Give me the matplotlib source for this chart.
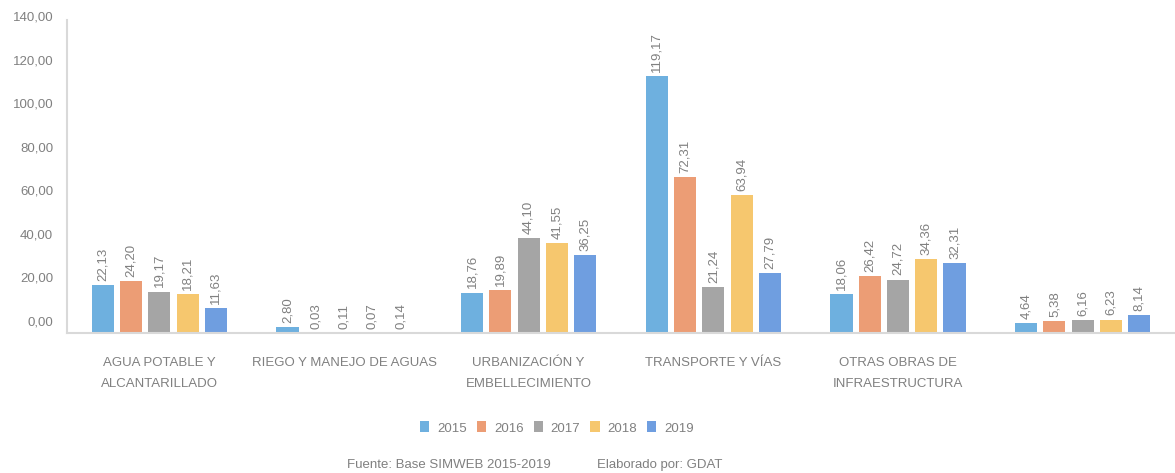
import matplotlib
matplotlib.use("Agg")
import matplotlib.pyplot as plt
import numpy as np

plt.rcParams['font.family'] = ['Liberation Sans', 'DejaVu Sans']

categories = ["AGUA POTABLE Y\nALCANTARILLADO", "RIEGO Y MANEJO DE AGUAS",
              "URBANIZACIÓN Y\nEMBELLECIMIENTO", "TRANSPORTE Y VÍAS",
              "OTRAS OBRAS DE\nINFRAESTRUCTURA", ""]
years = ["2015", "2016", "2017", "2018", "2019"]
v2015 = [22.13, 2.80, 18.76, 119.17, 18.06, 4.64]
v2016 = [24.20, 0.03, 19.89, 72.31, 26.42, 5.38]
v2017 = [19.17, 0.11, 44.10, 21.24, 24.72, 6.16]
v2018 = [18.21, 0.07, 41.55, 63.94, 34.36, 6.23]
v2019 = [11.63, 0.14, 36.25, 27.79, 32.31, 8.14]
series = [v2015, v2016, v2017, v2018, v2019]
yticks = [0, 20, 40, 60, 80, 100, 120, 140]

colors = ["#6EB0DF", "#EC9D75", "#A5A5A5", "#F6C76E", "#6F9EE0"]
txt = "#808080"

W, H = 1175, 473
fig = plt.figure(figsize=(W/100, H/100), dpi=100)

def rect(l, t, r, b):
    return [l/W, 1 - b/H, (r-l)/W, (b-t)/H]

ax = fig.add_axes(rect(67, 20, 1175, 333))
x = np.arange(len(categories))
pitch = 0.153
bw = 0.12
for i, (vals, yr, c) in enumerate(zip(series, years, colors)):
    pos = x + (i - 2) * pitch
    ax.bar(pos, vals, width=bw, color=c, label=yr)
    for p, v in zip(pos, vals):
        ax.annotate(f"{v:.2f}".replace(".", ","), (p, v), xytext=(0, 3),
                    textcoords="offset points", rotation=90, ha="center",
                    va="bottom", fontsize=9.5, color=txt)
ax.set_xlim(-0.5, 5.5)
ax.set_ylim(0, 145)
ax.set_yticks([])
ax.set_xticks(x)
ax.set_xticklabels(categories, fontsize=9.5, color=txt, linespacing=2.0)
ax.tick_params(axis='x', length=0, pad=17)
for s in ["top", "right"]:
    ax.spines[s].set_visible(False)
for s in ["left", "bottom"]:
    ax.spines[s].set_color("#D9D9D9")
    ax.spines[s].set_linewidth(1.5)

# y tick labels axis
axl = fig.add_axes(rect(67, 16, 1175, 321))
axl.set_ylim(0, 140)
axl.set_yticks(yticks)
axl.set_yticklabels([f"{t:.2f}".replace(".", ",") for t in yticks], fontsize=9.5, color=txt)
axl.tick_params(axis='y', length=0, pad=10)
axl.set_xticks([])
axl.patch.set_visible(False)
for s in axl.spines.values():
    s.set_visible(False)

handles, labels = ax.get_legend_handles_labels()
fig.legend(handles, labels, loc="center", bbox_to_anchor=(557/W, 1 - 428/H), ncol=5,
           frameon=False, fontsize=9.5, labelcolor=txt, handlelength=0.7,
           handleheight=0.9, handletextpad=0.6, columnspacing=0.75)

fig.text(449/W, 1 - 465/H, "Fuente: Base SIMWEB 2015-2019", ha="center", va="center",
         fontsize=9.5, color=txt)
fig.text(660/W, 1 - 465/H, "Elaborado por: GDAT", ha="center", va="center",
         fontsize=9.5, color=txt)

fig.savefig("out.png", dpi=100)
